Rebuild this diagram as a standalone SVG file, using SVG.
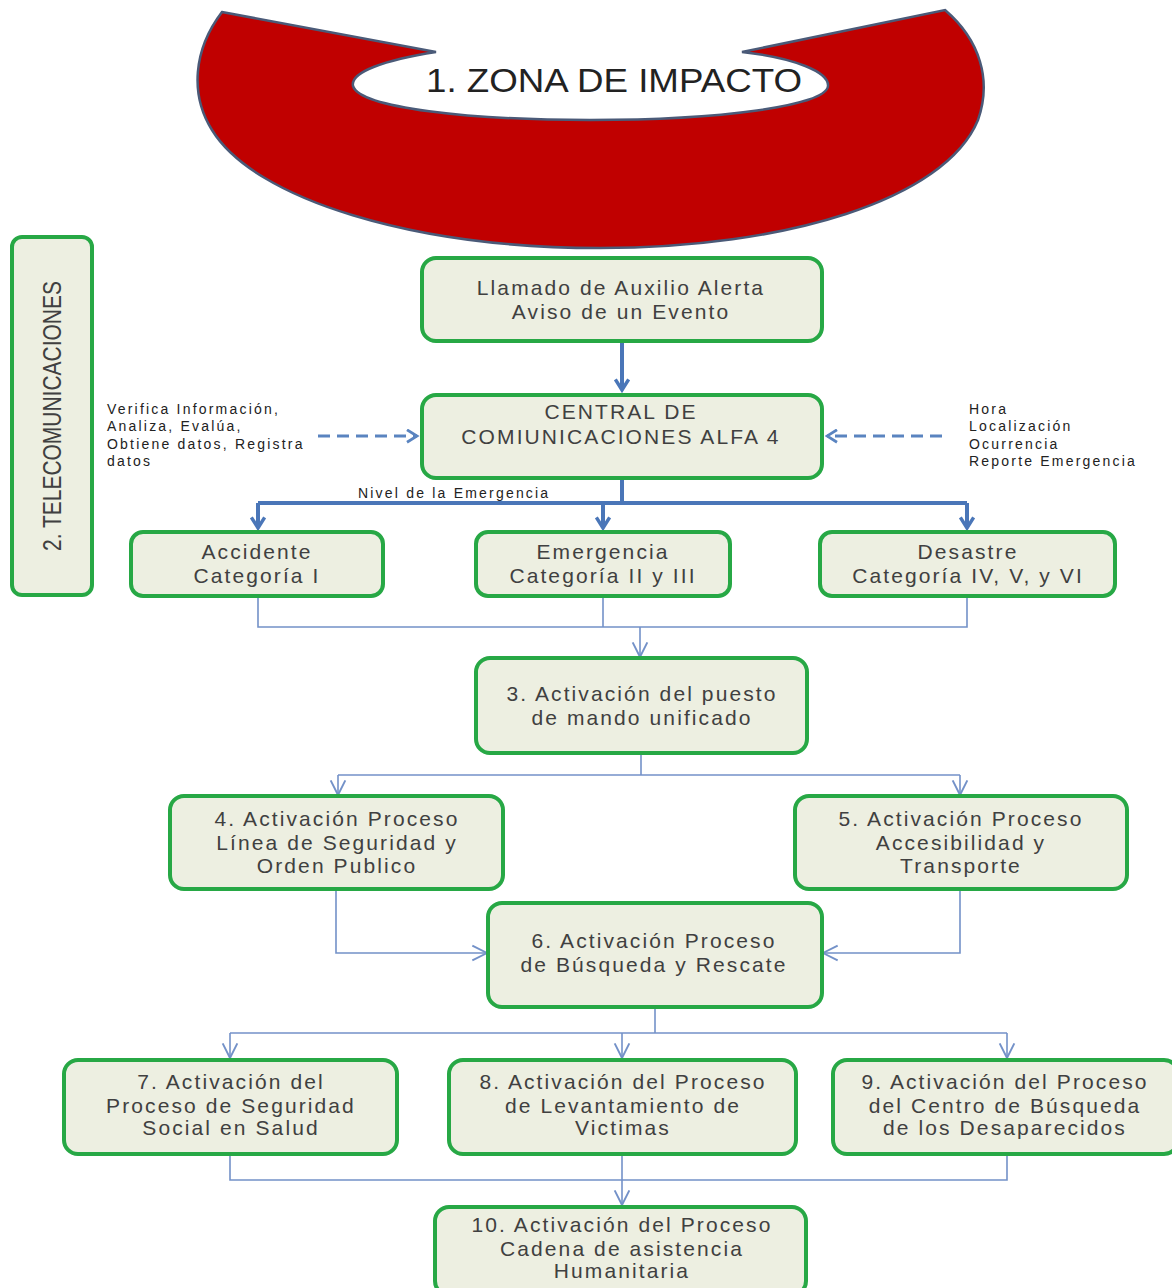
<svg xmlns="http://www.w3.org/2000/svg" width="1172" height="1288" viewBox="0 0 1172 1288">
<defs>
<style>
.box{fill:#EDEFE1;stroke:#27A845;stroke-width:4}
.t{font-family:"Liberation Sans",Arial,sans-serif;font-size:21px;fill:#404040;text-anchor:middle;letter-spacing:2.1px}
.s{font-family:"Liberation Sans",Arial,sans-serif;font-size:14px;fill:#222;letter-spacing:2.2px}
.thick{fill:none;stroke:#4A76B8;stroke-width:4}
.thin{fill:none;stroke:#7391C8;stroke-width:1.6}
.dash{fill:none;stroke:#5A84C0;stroke-width:3;stroke-dasharray:12 7}
</style>
<marker id="ah" viewBox="0 0 12 12" refX="10" refY="6" markerWidth="4" markerHeight="4" orient="auto" markerUnits="strokeWidth">
<path d="M2 1 L10 6 L2 11" fill="none" stroke="#4A76B8" stroke-width="2.6"/>
</marker>
<marker id="ad" viewBox="0 0 12 12" refX="10" refY="6" markerWidth="5" markerHeight="5" orient="auto" markerUnits="strokeWidth">
<path d="M2 1 L10 6 L2 11" fill="none" stroke="#5A84C0" stroke-width="2.2"/>
</marker>
<marker id="at" viewBox="0 0 12 12" refX="11" refY="6" markerWidth="11" markerHeight="11" orient="auto" markerUnits="strokeWidth">
<path d="M1 1 L11 6 L1 11" fill="none" stroke="#7391C8" stroke-width="1.3"/>
</marker>
</defs>
<rect width="1172" height="1288" fill="#FFFFFF"/>

<g id="zona-impacto">
<path d="M 222 12 L 436 52 C 385 60, 350 72, 353 86 C 360 108, 470 120, 590 120 C 720 120, 826 106, 828 86 C 829 72, 795 58, 742 52 L 945 10 C 980 40, 992 80, 978 120 C 945 200, 785 248, 600 248 C 415 248, 255 200, 212 130 C 190 95, 193 50, 222 12 Z" fill="#C00000" stroke="#4A5A78" stroke-width="2.5"/>
<text x="614" y="92" font-family="'Liberation Sans',Arial,sans-serif" font-size="33" fill="#222" text-anchor="middle" textLength="376" lengthAdjust="spacingAndGlyphs">1. ZONA DE IMPACTO</text>
</g>

<g id="telecomunicaciones">
<rect class="box" x="12" y="237" width="80" height="358" rx="10"/>
<text class="t" transform="translate(61,416) rotate(-90)" textLength="270" lengthAdjust="spacingAndGlyphs" style="font-size:25px;letter-spacing:0">2. TELECOMUNICACIONES</text>
</g>

<g id="connectors">
<path class="thick" d="M622 341 V390" marker-end="url(#ah)"/>
<path class="thick" d="M622 478 V503"/>
<path class="thick" d="M258 503 H967"/>
<path class="thick" d="M258 503 V528" marker-end="url(#ah)"/>
<path class="thick" d="M603 503 V528" marker-end="url(#ah)"/>
<path class="thick" d="M967 503 V528" marker-end="url(#ah)"/>
<path class="dash" d="M318 436 H417" marker-end="url(#ad)"/>
<path class="dash" d="M942 436 H827" marker-end="url(#ad)"/>
<path class="thin" d="M258 596 V627 H967 V596"/>
<path class="thin" d="M603 596 V627"/>
<path class="thin" d="M640 627 V657" marker-end="url(#at)"/>
<path class="thin" d="M641 753 V775"/>
<path class="thin" d="M338 775 H960"/>
<path class="thin" d="M338 775 V795" marker-end="url(#at)"/>
<path class="thin" d="M960 775 V795" marker-end="url(#at)"/>
<path class="thin" d="M336 889 V953 H487" marker-end="url(#at)"/>
<path class="thin" d="M960 889 V953 H823" marker-end="url(#at)"/>
<path class="thin" d="M655 1007 V1033"/>
<path class="thin" d="M230 1033 H1007"/>
<path class="thin" d="M230 1033 V1058" marker-end="url(#at)"/>
<path class="thin" d="M622 1033 V1058" marker-end="url(#at)"/>
<path class="thin" d="M1007 1033 V1058" marker-end="url(#at)"/>
<path class="thin" d="M230 1154 V1180 H1007 V1154"/>
<path class="thin" d="M622 1154 V1205" marker-end="url(#at)"/>
</g>

<g id="label-nivel"><text class="s" x="358" y="498">Nivel de la Emergencia</text></g>
<g id="label-left">
<text class="s" x="107" y="414">Verifica Información,</text>
<text class="s" x="107" y="431">Analiza, Evalúa,</text>
<text class="s" x="107" y="449">Obtiene datos, Registra</text>
<text class="s" x="107" y="466">datos</text>
</g>
<g id="label-right">
<text class="s" x="969" y="414">Hora</text>
<text class="s" x="969" y="431">Localización</text>
<text class="s" x="969" y="449">Ocurrencia</text>
<text class="s" x="969" y="466">Reporte Emergencia</text>
</g>

<g id="llamado">
<rect class="box" x="422" y="258" width="400" height="83" rx="14"/>
<text class="t" x="621" y="295">Llamado de Auxilio Alerta</text>
<text class="t" x="621" y="319">Aviso de un Evento</text>
</g>
<g id="central">
<rect class="box" x="422" y="395" width="400" height="83" rx="14"/>
<text class="t" x="621" y="419">CENTRAL DE</text>
<text class="t" x="621" y="444">COMIUNICACIONES ALFA 4</text>
</g>
<g id="accidente">
<rect class="box" x="131" y="532" width="252" height="64" rx="12"/>
<text class="t" x="257" y="559">Accidente</text>
<text class="t" x="257" y="583">Categoría I</text>
</g>
<g id="emergencia">
<rect class="box" x="476" y="532" width="254" height="64" rx="12"/>
<text class="t" x="603" y="559">Emergencia</text>
<text class="t" x="603" y="583">Categoría II y III</text>
</g>
<g id="desastre">
<rect class="box" x="820" y="532" width="295" height="64" rx="12"/>
<text class="t" x="968" y="559">Desastre</text>
<text class="t" x="968" y="583">Categoría IV, V, y VI</text>
</g>
<g id="puesto-mando">
<rect class="box" x="476" y="658" width="331" height="95" rx="14"/>
<text class="t" x="642" y="701">3.  Activación del puesto</text>
<text class="t" x="642" y="725">de mando unificado</text>
</g>
<g id="seguridad-orden">
<rect class="box" x="170" y="796" width="333" height="93" rx="14"/>
<text class="t" x="337" y="826">4. Activación Proceso</text>
<text class="t" x="337" y="850">Línea de Seguridad y</text>
<text class="t" x="337" y="873">Orden Publico</text>
</g>
<g id="accesibilidad">
<rect class="box" x="795" y="796" width="332" height="93" rx="14"/>
<text class="t" x="961" y="826">5. Activación Proceso</text>
<text class="t" x="961" y="850">Accesibilidad y</text>
<text class="t" x="961" y="873">Transporte</text>
</g>
<g id="busqueda-rescate">
<rect class="box" x="488" y="903" width="334" height="104" rx="14"/>
<text class="t" x="654" y="948">6. Activación Proceso</text>
<text class="t" x="654" y="972">de Búsqueda  y Rescate</text>
</g>
<g id="seguridad-social">
<rect class="box" x="64" y="1060" width="333" height="94" rx="14"/>
<text class="t" x="231" y="1089">7. Activación del</text>
<text class="t" x="231" y="1113">Proceso de Seguridad</text>
<text class="t" x="231" y="1135">Social en Salud</text>
</g>
<g id="levantamiento">
<rect class="box" x="449" y="1060" width="347" height="94" rx="14"/>
<text class="t" x="623" y="1089">8. Activación del Proceso</text>
<text class="t" x="623" y="1113">de Levantamiento de</text>
<text class="t" x="623" y="1135">Victimas</text>
</g>
<g id="desaparecidos">
<rect class="box" x="833" y="1060" width="345" height="94" rx="14"/>
<text class="t" x="1005" y="1089">9. Activación del Proceso</text>
<text class="t" x="1005" y="1113">del Centro de Búsqueda</text>
<text class="t" x="1005" y="1135">de los Desaparecidos</text>
</g>
<g id="asistencia-humanitaria">
<rect class="box" x="435" y="1207" width="371" height="88" rx="14"/>
<text class="t" x="622" y="1232">10. Activación del Proceso</text>
<text class="t" x="622" y="1256">Cadena de asistencia</text>
<text class="t" x="622" y="1278">Humanitaria</text>
</g>
</svg>
